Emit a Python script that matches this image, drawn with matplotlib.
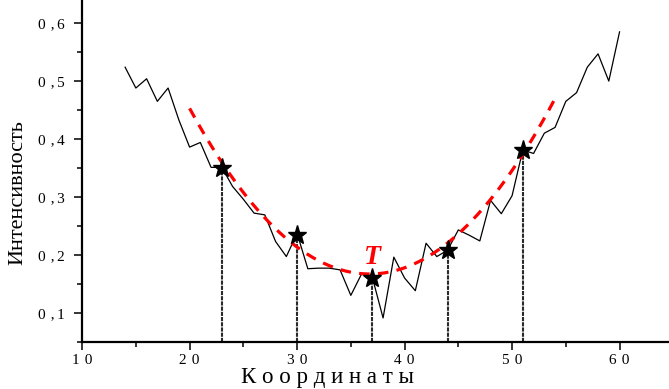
import numpy as np
import matplotlib
matplotlib.use("Agg")
import matplotlib.pyplot as plt
from matplotlib.ticker import MultipleLocator, FixedLocator

# Measured intensity profile
coord = list(range(14, 61))
intensity = [0.524, 0.488, 0.504, 0.465, 0.488, 0.433, 0.386, 0.394, 0.351, 0.351,
             0.318, 0.296, 0.272, 0.269, 0.223, 0.197, 0.237, 0.176, 0.177, 0.177,
             0.174, 0.130, 0.167, 0.161, 0.091, 0.196, 0.160, 0.138, 0.220, 0.197,
             0.208, 0.243, 0.234, 0.224, 0.294, 0.271, 0.302, 0.381, 0.375, 0.410,
             0.420, 0.465, 0.480, 0.524, 0.547, 0.500, 0.585]

# Selected reference points
mark_x = [23, 30, 37, 44, 51]
mark_y = [0.350, 0.235, 0.160, 0.208, 0.381]

# Range of the quadratic trend curve
trend_from, trend_to = 20, 54

# Tick labels are letter-spaced with narrow spaces
y_ticks = [0.1, 0.2, 0.3, 0.4, 0.5, 0.6]
y_tick_labels = ["0\u2004,\u20061", "0\u2004,\u20062", "0\u2004,\u20063",
                 "0\u2004,\u20064", "0\u2004,\u20065", "0\u2004,\u20066"]
x_ticks = [10, 20, 30, 40, 50, 60]
x_tick_labels = ["1\u20040", "2\u20040", "3\u20040",
                 "4\u20040", "5\u20040", "6\u20040"]

plt.rcParams["font.family"] = ["Liberation Serif", "DejaVu Serif"]

fig = plt.figure(figsize=(6.69, 3.89), dpi=100)
ax = fig.add_axes([82.1 / 669, 47.3 / 389, 1 - 82.1 / 669, 1 - 47.3 / 389])

ymin, ymax = 0.05, 0.640
ax.set_xlim(10, 64.6)
ax.set_ylim(ymin, ymax)

# Drop lines from the marked points to the axis
ax.vlines(mark_x, ymin, mark_y, colors="#2a2a2a", linewidth=1.5,
          linestyles=[(0, (2.0, 0.5))], zorder=2)

ax.plot(coord, intensity, color="black", linewidth=0.9, zorder=3)

# Quadratic fit through the marked points
coef = np.polyfit(mark_x, mark_y, 2)
xs = np.linspace(trend_from, trend_to, 200)
ax.plot(xs, np.polyval(coef, xs), color="#ff0000", linewidth=2.3,
        dashes=(3.3, 2.6), zorder=4)

ax.plot(mark_x, mark_y, linestyle="none", marker="*", markersize=14,
        color="black", zorder=5)

ax.text(37.05, 0.196, "T", color="#ff0000", fontsize=20, fontweight="bold",
        fontstyle="italic", ha="center", va="center", zorder=6)

for side in ("top", "right"):
    ax.spines[side].set_visible(False)
for side in ("left", "bottom"):
    ax.spines[side].set_linewidth(1.6)

ax.yaxis.set_major_locator(FixedLocator(y_ticks))
ax.set_yticklabels(y_tick_labels)
ax.yaxis.set_minor_locator(MultipleLocator(0.05))
ax.xaxis.set_major_locator(FixedLocator(x_ticks))
ax.set_xticklabels(x_tick_labels)
ax.xaxis.set_minor_locator(MultipleLocator(5))

ax.tick_params(which="major", direction="out", length=6, width=1.1,
               labelsize=11)
ax.tick_params(axis="y", which="major", pad=6.5)
ax.tick_params(axis="x", which="major", pad=3)
ax.tick_params(which="minor", direction="out", length=3.5, width=1.1)

fig.text(17.5 / 669, 1 - 193 / 389, "Интенсивность", rotation=90,
         fontsize=16, ha="center", va="center")
fig.text(327 / 669, 1 - 377 / 389, "К о о р д и н а т ы",
         fontsize=16.5, ha="center", va="center")

fig.savefig("out.png", dpi=100)
